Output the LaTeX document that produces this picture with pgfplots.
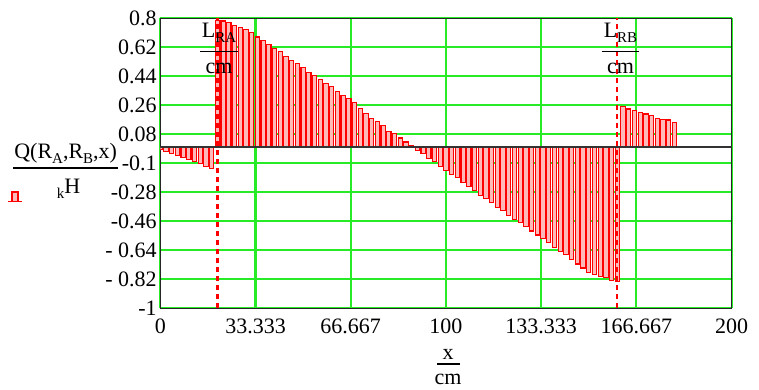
\documentclass[border=0pt]{standalone}
\usepackage{pgfplots}
\pgfplotsset{compat=1.18}
\usepackage{pgfplotstable}
\usepackage{fontspec}
\setmainfont{Liberation Serif}
\definecolor{gridg}{RGB}{40,235,40}
\definecolor{mred}{RGB}{255,0,0}
\definecolor{pinkf}{RGB}{255,185,185}
\newcommand{\sub}[1]{\raisebox{-5pt}{\fontsize{15}{15}\selectfont #1}}

\pgfplotstableread{
x q
0 -0.017
2 -0.028
4 -0.040
6 -0.052
8 -0.064
10 -0.077
12 -0.090
14 -0.104
16 -0.120
18 -0.135
20 0.789
22 0.783
24 0.775
26 0.758
28 0.744
30 0.733
32 0.713
34 0.684
36 0.664
38 0.637
40 0.613
42 0.592
44 0.565
46 0.540
48 0.520
50 0.493
52 0.464
54 0.447
56 0.420
58 0.395
60 0.375
62 0.348
64 0.321
66 0.302
68 0.275
70 0.240
72 0.207
74 0.178
76 0.158
78 0.132
80 0.100
82 0.083
84 0.057
86 0.032
88 0.008
90 -0.020
92 -0.040
94 -0.070
96 -0.090
98 -0.118
100 -0.145
102 -0.168
104 -0.190
106 -0.220
108 -0.245
110 -0.270
112 -0.298
114 -0.320
116 -0.343
118 -0.373
120 -0.395
122 -0.425
124 -0.450
126 -0.468
128 -0.495
130 -0.520
132 -0.545
134 -0.568
136 -0.590
138 -0.620
140 -0.645
142 -0.668
144 -0.695
146 -0.725
148 -0.750
150 -0.775
152 -0.788
154 -0.800
156 -0.808
158 -0.825
160 -0.835
162 0.251
164 0.237
166 0.225
168 0.217
170 0.206
172 0.196
174 0.179
176 0.173
178 0.169
180 0.155
}\shear

\begin{document}
\begin{tikzpicture}[x=1pt,y=1pt]
\fontsize{22}{26}\selectfont
\path[use as bounding box] (-160.3,-80.7) rectangle (598.7,308.3);
\begin{axis}[
  at={(0,0)}, anchor=south west,
  scale only axis, width=571.3pt, height=290pt,
  xmin=0, xmax=200, ymin=-1, ymax=0.8,
  xtick={0,33.333,66.667,100,133.333,166.667,200},
  xticklabels={0,33.333,66.667,100,133.333,166.667,200},
  ytick={0.8,0.62,0.44,0.26,0.08,-0.1,-0.28,-0.46,-0.64,-0.82,-1},
  yticklabels={0.8,0.62,0.44,0.26,0.08,-0.1,-0.28,-0.46,- 0.64,- 0.82,-1},
  grid=major,
  major grid style={gridg, line width=2.1pt},
  major tick length=0pt,
  axis line style={black!85, line width=1.5pt},
  tick label style={font=\fontsize{22}{26}\selectfont},
  /pgf/number format/assume math mode=true,
  xticklabel style={inner sep=0pt, yshift=-10pt},
  yticklabel style={inner sep=0pt, xshift=-3.5pt},
  clip=true,
]
\addplot[ybar, bar width=1.5, bar shift=0pt, draw=mred, line width=1.1pt,
  fill=pinkf] table[x=x, y=q] {\shear};
\addplot[black!80, line width=1.8pt] coordinates {(0,0) (200,0)};
\addplot[draw=mred, line width=2.3pt, dash pattern=on 5pt off 4pt] coordinates {(20,-1) (20,0.8)};
\addplot[draw=mred, line width=2.3pt, dash pattern=on 5pt off 4pt] coordinates {(160,-1) (160,0.8)};
\end{axis}
% L_RA label
\node[anchor=base, inner sep=0pt] at (58.7,270.3) {L\sub{RA}};
\fill[black] (39.7,255.9) rectangle (77.7,257.7);
\node[anchor=base, inner sep=0pt] at (58.7,235.3) {cm};
% L_RB label
\node[anchor=base, inner sep=0pt] at (460.2,270.3) {L\sub{RB}};
\fill[black] (441.4,255.9) rectangle (479,257.7);
\node[anchor=base, inner sep=0pt] at (460.2,235.3) {cm};
% y legend label
\node[anchor=base, inner sep=0pt] at (-94.6,150.3) {Q(R\sub{A},R\sub{B},x)};
\fill[black] (-147.3,139.1) rectangle (-42.3,140.9);
\node[anchor=base, inner sep=0pt] at (-91.8,115.3) {\sub{k}H};
\draw[mred, line width=1.4pt] (-152.3,107) -- (-138.3,107);
\draw[mred, line width=1.4pt, fill=pinkf] (-148.3,107) -- (-148.3,116.3) -- (-142.3,116.3) -- (-142.3,107);
% x label
\node[anchor=base, inner sep=0pt] at (287.7,-50.7) {x};
\fill[black] (276.7,-56.4) rectangle (299.7,-54.6);
\node[anchor=base, inner sep=0pt] at (287.7,-76) {cm};
\end{tikzpicture}
\end{document}
